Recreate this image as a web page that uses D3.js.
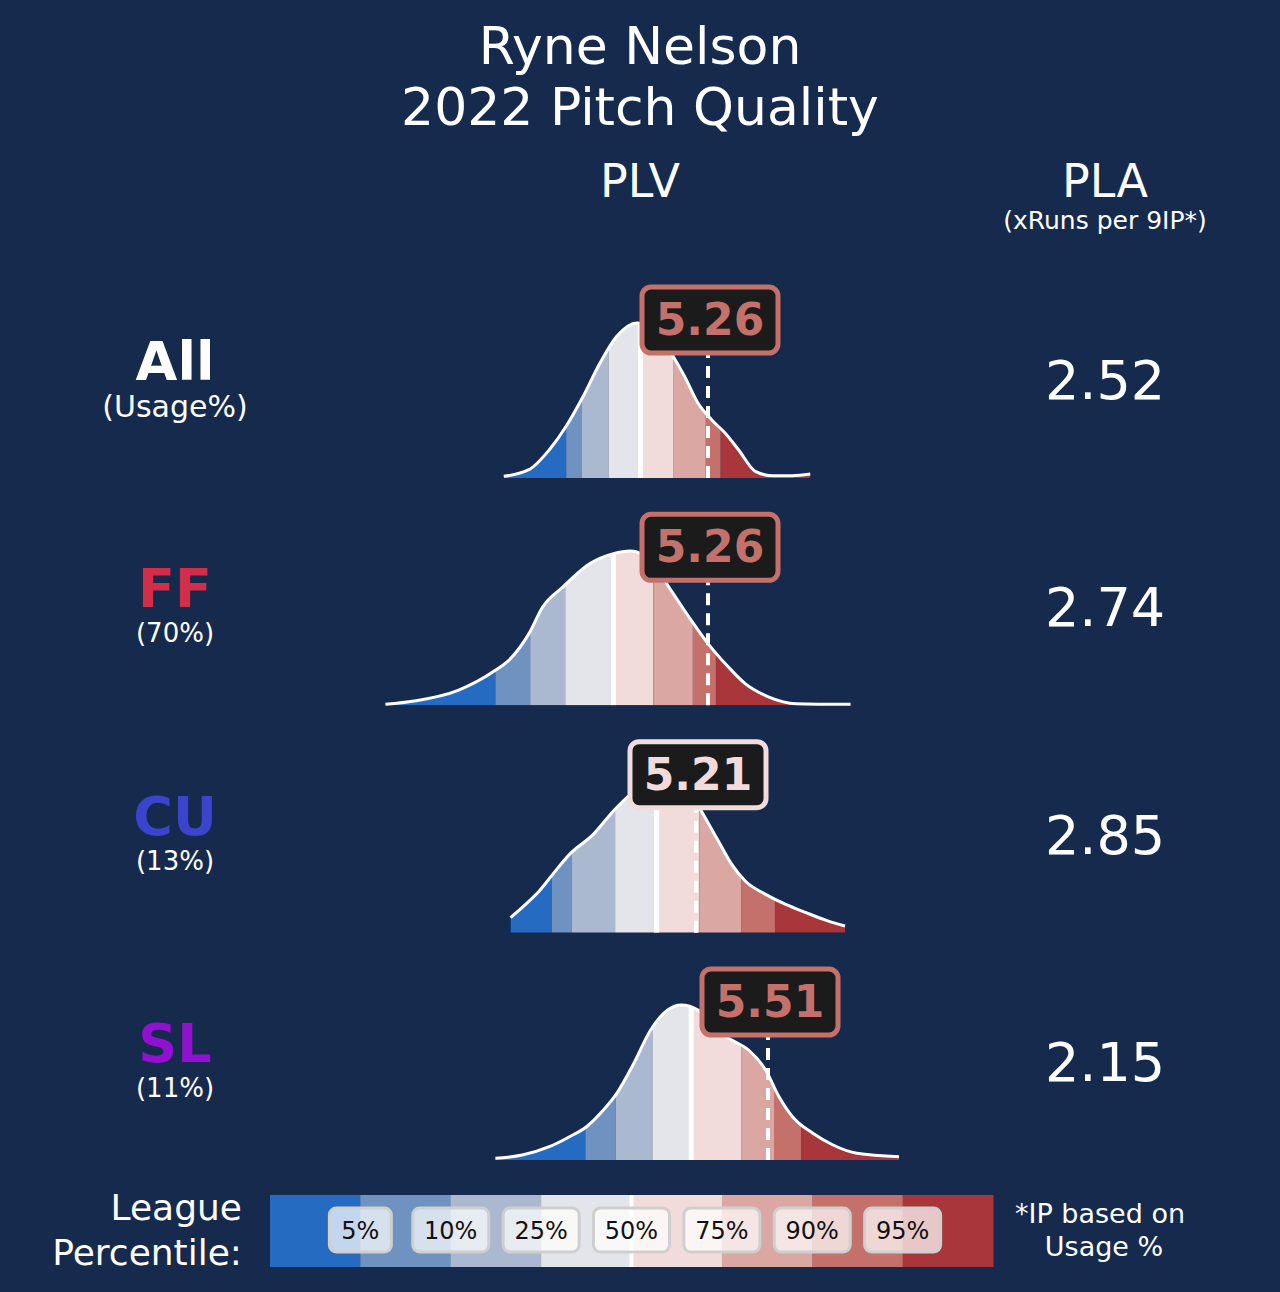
<!DOCTYPE html>
<html><head><meta charset="utf-8">
<script src="https://cdn.jsdelivr.net/npm/d3@7"></script>
<style>body{margin:0;background:#162a4e}svg{display:block}text{font-family:"DejaVu Sans",sans-serif}</style>
</head><body><div id="chart"></div>
<script>
var svgWidth = 1280, svgHeight = 1292;
var bg = "#162a4e";

// pitch rows
var pitches = ["All", "FF", "CU", "SL"];
var usage = ["(Usage%)", "(70%)", "(13%)", "(11%)"];
var pitchColors = ["#ffffff", "#d22d49", "#3c44cd", "#9210cf"];
var plv = [5.26, 5.26, 5.21, 5.51];
var pla = ["2.52", "2.74", "2.85", "2.15"];
var plvBand = [6, 6, 4, 6]; // colour band index of the PLV value

// density curves (PLV, density height)
var densX = [
  [4.409,4.514,4.599,4.669,4.740,4.810,4.880,4.965,5.021,5.106,5.162,5.218,5.275,5.331,5.387,5.457,5.528,5.612,5.686],
  [3.916,4.036,4.219,4.374,4.430,4.514,4.571,4.655,4.768,4.866,4.937,5.021,5.106,5.190,5.260,5.345,5.415,5.514,5.626,5.854],
  [4.437,4.500,4.557,4.613,4.683,4.782,4.866,4.937,4.993,5.049,5.162,5.232,5.303,5.359,5.415,5.500,5.584,5.669,5.753,5.831],
  [4.374,4.486,4.599,4.683,4.754,4.824,4.880,4.951,5.021,5.092,5.148,5.218,5.289,5.359,5.429,5.500,5.556,5.612,5.697,5.781,5.880,6.056]
];
var densY = [
  [1.7,8.3,28.3,51.7,81.7,115,141.7,155,151.7,125,101.7,75,58.3,45,28.3,6.7,2.3,2.3,4],
  [1,4.3,15,35,45,71.7,98.3,118.3,141.7,151.7,154.3,145,115,85,61.7,38.3,21.7,8.3,1.7,1],
  [15,28.3,41.7,58.3,78.3,98.3,121.7,138.3,148,156,150,121.7,91.7,68.3,51.7,38.3,28.3,20,12.3,6.7],
  [1.7,5,13.3,23.3,33.3,50,66.7,96.7,130,150,155,150,130,120,110,90,63.3,43.3,26.7,15,6.7,3.3]
];
// league percentile cut points: 5,10,25,50,75,90,95
var cuts = [
  [4.669,4.735,4.845,4.979,5.117,5.251,5.313],
  [4.374,4.519,4.665,4.866,5.032,5.197,5.293],
  [4.610,4.693,4.873,5.046,5.225,5.398,5.539],
  [4.749,4.876,5.028,5.190,5.398,5.535,5.648]
];
var pctLabels = ["5%", "10%", "25%", "50%", "75%", "90%", "95%"];
var bandColors = ["#256bc2","#6f92c0","#aab8d0","#e4e5ea","#f2dcdb","#daa7a3","#c4706b","#a8363b"];

var svg = d3.select("#chart").append("svg")
  .attr("width", svgWidth).attr("height", svgHeight);
svg.append("rect").attr("width", svgWidth).attr("height", svgHeight).attr("fill", bg);

// titles
svg.append("text").attr("x", 640).attr("y", 64).attr("text-anchor", "middle")
  .attr("fill", "#fff").attr("font-size", 52).text("Ryne Nelson");
svg.append("text").attr("x", 640).attr("y", 125).attr("text-anchor", "middle")
  .attr("fill", "#fff").attr("font-size", 52).text("2022 Pitch Quality");
svg.append("text").attr("x", 640).attr("y", 197).attr("text-anchor", "middle")
  .attr("fill", "#fff").attr("font-size", 46).text("PLV");
svg.append("text").attr("x", 1105).attr("y", 197).attr("text-anchor", "middle")
  .attr("fill", "#fff").attr("font-size", 46).text("PLA");
svg.append("text").attr("x", 1105).attr("y", 229).attr("text-anchor", "middle")
  .attr("fill", "#fff").attr("font-size", 25).text("(xRuns per 9IP*)");

var x = d3.scaleLinear().domain([3.9, 6.1]).range([708 - 240 * 1.36, 708 + 240 * 0.84]);
var rowBase = d3.scaleLinear().domain([0, 3]).range([478, 1160]);
var y = d3.scaleLinear().domain([0, 160]).range([0, 160]);

pitches.forEach(function(p, i) {
  var base = rowBase(i);
  var pts = densX[i].map(function(v, j) { return [v, densY[i][j]]; });
  var area = d3.area().curve(d3.curveMonotoneX)
    .x(function(d) { return x(d[0]); })
    .y0(base).y1(function(d) { return base - y(d[1]); });
  var line = d3.line().curve(d3.curveMonotoneX)
    .x(function(d) { return x(d[0]); })
    .y(function(d) { return base - y(d[1]); });

  var clipId = "clip" + i;
  svg.append("clipPath").attr("id", clipId).append("path").attr("d", area(pts));
  var g = svg.append("g").attr("clip-path", "url(#" + clipId + ")");
  var edges = [densX[i][0]].concat(cuts[i]).concat([densX[i][densX[i].length - 1]]);
  for (var b = 0; b < 8; b++) {
    g.append("rect").attr("x", x(edges[b])).attr("width", Math.max(0, x(edges[b + 1]) - x(edges[b])))
      .attr("y", base - 170).attr("height", 170).attr("fill", bandColors[b]);
  }
  g.append("line").attr("x1", x(cuts[i][3])).attr("x2", x(cuts[i][3]))
    .attr("y1", base - 170).attr("y2", base).attr("stroke", "#fff").attr("stroke-width", 5);
  svg.append("path").attr("d", line(pts)).attr("fill", "none")
    .attr("stroke", "#fff").attr("stroke-width", 3);

  // value marker
  var vx = x(plv[i]);
  svg.append("line").attr("x1", vx).attr("x2", vx).attr("y1", base).attr("y2", base - 150)
    .attr("stroke", "#fff").attr("stroke-width", 4).attr("stroke-dasharray", "12,8");
  var bc = bandColors[plvBand[i]];
  svg.append("rect").attr("x", vx - 66).attr("y", base - 191).attr("width", 136).attr("height", 66)
    .attr("rx", 9).attr("fill", "#1b1b1b").attr("stroke", bc).attr("stroke-width", 5);
  svg.append("text").attr("x", vx + 2).attr("y", base - 143).attr("text-anchor", "middle")
    .attr("font-size", 44).attr("font-weight", "bold").attr("fill", bc).text(plv[i].toFixed(2));

  // left labels
  svg.append("text").attr("x", 175).attr("y", base - 98).attr("text-anchor", "middle")
    .attr("font-size", 54).attr("font-weight", "bold").attr("fill", pitchColors[i]).text(p);
  svg.append("text").attr("x", 175).attr("y", base - (i === 0 ? 61 : 63)).attr("text-anchor", "middle")
    .attr("font-size", i === 0 ? 30 : 26).attr("fill", "#fff").text(usage[i]);
  // PLA
  svg.append("text").attr("x", 1105).attr("y", base - 79).attr("text-anchor", "middle")
    .attr("font-size", 54).attr("fill", "#fff").text(pla[i]);
});

// legend colour bar
var lx = d3.scaleLinear().domain([0, 8]).range([270, 993]);
svg.selectAll(".band").data(bandColors).enter().append("rect")
  .attr("x", function(d, k) { return lx(k); }).attr("width", lx(1) - lx(0) + 0.5)
  .attr("y", 1195).attr("height", 72).attr("fill", function(d) { return d; });
svg.append("line").attr("x1", lx(4)).attr("x2", lx(4)).attr("y1", 1195).attr("y2", 1267)
  .attr("stroke", "#fff").attr("stroke-width", 4);
pctLabels.forEach(function(t, k) {
  var cx = lx(k + 1);
  var w = t.length === 2 ? 62 : 76;
  svg.append("rect").attr("x", cx - w / 2).attr("y", 1208).attr("width", w).attr("height", 44)
    .attr("rx", 7).attr("fill", "rgba(255,255,255,0.72)").attr("stroke", "#cfcfcf").attr("stroke-width", 3);
  svg.append("text").attr("x", cx).attr("y", 1239).attr("text-anchor", "middle")
    .attr("font-size", 24).attr("fill", "#111").text(t);
});
svg.append("text").attr("x", 242).attr("y", 1220).attr("text-anchor", "end")
  .attr("font-size", 36).attr("fill", "#fff").text("League");
svg.append("text").attr("x", 242).attr("y", 1265).attr("text-anchor", "end")
  .attr("font-size", 36).attr("fill", "#fff").text("Percentile:");
svg.append("text").attr("x", 1100).attr("y", 1223).attr("text-anchor", "middle")
  .attr("font-size", 27).attr("fill", "#fff").text("*IP based on");
svg.append("text").attr("x", 1104).attr("y", 1256).attr("text-anchor", "middle")
  .attr("font-size", 27).attr("fill", "#fff").text("Usage %");
</script></body></html>
